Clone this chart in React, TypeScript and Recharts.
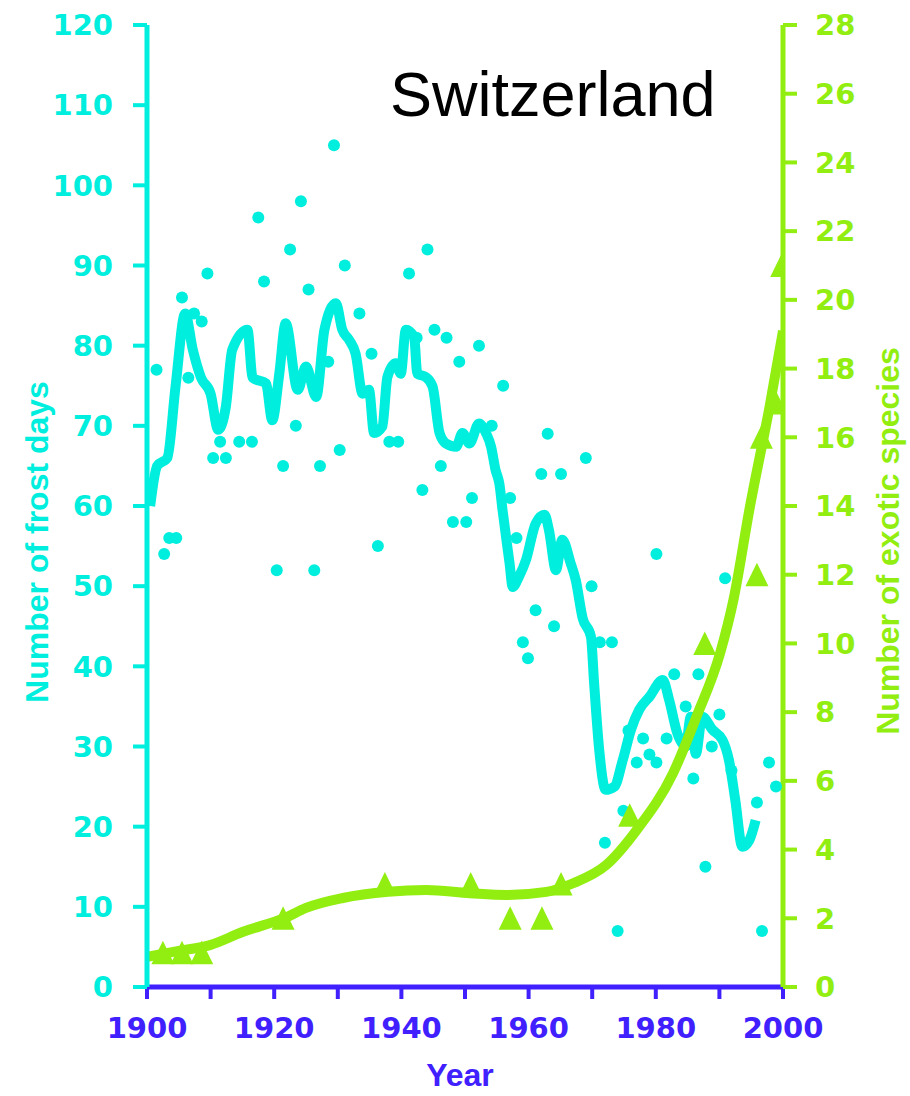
import {
	ComposedChart,
	Line,
	Scatter,
	XAxis,
	YAxis,
} from "recharts";

const CYAN = "#00eedd";
const GREEN = "#92ee10";
const BLUE = "#4020ff";

const xTicks = [1900, 1910, 1920, 1930, 1940, 1950, 1960, 1970, 1980, 1990, 2000];
const frostTicks = [0, 10, 20, 30, 40, 50, 60, 70, 80, 90, 100, 110, 120];
const speciesTicks = [0, 2, 4, 6, 8, 10, 12, 14, 16, 18, 20, 22, 24, 26, 28];

// yearly frost days (dots)
const frostYears = [
	1901.5, 1902.7, 1903.5, 1904.6, 1905.5, 1906.5, 1907.4, 1908.6, 1909.5, 1910.4,
	1911.5, 1912.4, 1914.5, 1916.5, 1917.5, 1918.4, 1920.4, 1921.4, 1922.5, 1923.4,
	1924.2, 1925.4, 1926.3, 1927.2, 1928.5, 1929.4, 1930.3, 1931.1, 1933.4, 1935.3,
	1936.3, 1938.1, 1939.5, 1941.2, 1942.4, 1943.3, 1944.1, 1945.2, 1946.2, 1947.1,
	1948.1, 1949.1, 1950.2, 1951.1, 1952.2, 1954.2, 1956.0, 1957.1, 1958.1, 1959.1,
	1959.9, 1961.1, 1962.0, 1963.0, 1964.0, 1965.1, 1969.0, 1969.9, 1971.2, 1972.0,
	1973.1, 1974.0, 1974.9, 1975.7, 1977.0, 1978.0, 1979.0, 1980.1, 1980.1, 1981.7,
	1982.9, 1984.7, 1985.9, 1986.7, 1987.8, 1988.8, 1990.0, 1990.9, 1991.9, 1995.9,
	1996.7, 1997.8, 1998.9,
];
const frostDays = [
	77, 54, 56, 56, 86, 76, 84, 83, 89, 66,
	68, 66, 68, 68, 96, 88, 52, 65, 92, 70,
	98, 87, 52, 65, 78, 105, 67, 90, 84, 79,
	55, 68, 68, 89, 81, 62, 92, 82, 65, 81,
	58, 78, 58, 61, 80, 70, 75, 61, 56, 43,
	41, 47, 64, 69, 45, 64, 66, 50, 43, 18,
	43, 7, 22, 32, 28, 31, 29, 28, 54, 31,
	39, 35, 26, 39, 15, 30, 34, 51, 27, 23,
	7, 28, 25,
];

// smoothed frost days
const smoothYears = [
	1900.5, 1901.6, 1903.2, 1904.5, 1906, 1907.2, 1908.5, 1910, 1911.2, 1912.4,
	1913.4, 1915.8, 1916.6, 1918.7, 1919.7, 1920.8, 1921.8, 1923.7, 1925, 1926.6,
	1927.9, 1929.7, 1930.7, 1931.8, 1932.8, 1933.9, 1934.9, 1935.7, 1937, 1937.8,
	1939.1, 1939.9, 1940.7, 1942, 1942.5, 1943.8, 1944.9, 1946, 1947, 1948.6,
	1949.6, 1950.7, 1952.2, 1953.3, 1954.1, 1954.8, 1955.4, 1955.9, 1957, 1957.5,
	1958.5, 1959.6, 1961.1, 1962.5, 1963.2, 1964.3, 1965.3, 1966.6, 1967.4, 1968.5,
	1969.8, 1970.3, 1971.1, 1972.1, 1973.5, 1974.8, 1976.1, 1977.4, 1979, 1981.1,
	1982.1, 1983.4, 1984.7, 1985.5, 1986.3, 1987.3, 1988.9, 1990.5, 1991.5, 1992.5,
	1993.6, 1994.7, 1995.7,
];
const smoothFrost = [
	60, 65, 66, 75, 84, 79.5, 76, 74, 69.5, 72.4,
	79.5, 82, 76, 75.3, 70.7, 76.5, 82.8, 74.5, 77.4, 73.6,
	82, 85.3, 82, 80.7, 79, 74, 74.5, 69.1, 69.9, 76.1,
	77.8, 76.5, 82, 81.1, 76.5, 76.1, 74.9, 69.1, 67.8, 67.4,
	69.1, 67.8, 70.3, 69.1, 67.4, 64.5, 62.8, 59.5, 52.9, 49.9,
	51.2, 53.3, 57.8, 58.9, 57, 52, 55.8, 52.9, 50.8, 46,
	43.7, 37.9, 29.6, 24.6, 25, 28.3, 32.1, 34.6, 36.2, 38.3,
	35.8, 31.6, 30, 33.7, 29.1, 33.7, 32.1, 30.8, 28.3, 23.3,
	17.5, 18.3, 20.8,
];

// exotic species records (triangles)
const speciesYears = [
	1902.5, 1905.5, 1908.6, 1921.4, 1937.4, 1950.9, 1957.1, 1962.1, 1965.1, 1975.9,
	1987.7, 1995.9, 1996.6, 1998.9, 1999.8,
];
const speciesCount = [1, 1, 1, 2, 3, 3, 2, 2, 3, 5, 10, 12, 16, 17, 21];

// fitted species curve
const fitYears = [
	1900, 1905, 1909.9, 1915, 1921.9, 1925, 1930.8, 1937.9, 1943.9, 1950.8,
	1956.5, 1962.8, 1967, 1972.2, 1977, 1982.7, 1986.4, 1990.1, 1992.2, 1994.8,
	1997.9, 2000,
];
const fitSpecies = [
	0.88, 1.05, 1.22, 1.6, 2.03, 2.3, 2.59, 2.77, 2.82, 2.73,
	2.68, 2.77, 3.02, 3.55, 4.57, 6.22, 7.87, 9.71, 11.26, 13.98,
	16.9, 19.1,
];

const frostPoints = frostYears.map((year, i) => ({ year, frost: frostDays[i] }));
const frostLine = smoothYears.map((year, i) => ({ year, frost: smoothFrost[i] }));
const speciesPoints = speciesYears.map((year, i) => ({ year, species: speciesCount[i] }));
const speciesLine = fitYears.map((year, i) => ({ year, species: fitSpecies[i] }));

const tickFont = { fontSize: 29, fontWeight: "bold", fontFamily: "DejaVu Sans" };
const titleFont = "Liberation Sans, Arial, sans-serif";

function Dot(props: any) {
	return <circle cx={props.cx} cy={props.cy} r={6} fill={CYAN} />;
}

function Triangle(props: any) {
	const { cx, cy } = props;
	return (
		<polygon
			points={`${cx},${cy - 12} ${cx + 11.5},${cy + 11.5} ${cx - 11.5},${cy + 11.5}`}
			fill={GREEN}
		/>
	);
}

export default function App() {
	return (
		<div style={{ position: "absolute", left: 0, top: 0, width: 910, height: 1096, background: "#fff" }}>
			<ComposedChart
				width={910}
				height={1096}
				margin={{ top: 25, right: 0, bottom: 0, left: 0 }}
			>
				<XAxis
					dataKey="year"
					type="number"
					domain={[1900, 2000]}
					ticks={xTicks}
					allowDataOverflow
					height={109}
					tickFormatter={(v) => (v % 20 === 0 ? String(v) : "")}
					tick={{ ...tickFont, fill: BLUE }}
					tickSize={12}
					tickMargin={18}
					tickLine={{ stroke: BLUE, strokeWidth: 4 }}
					axisLine={{ stroke: BLUE, strokeWidth: 5 }}
					label={{
						content: () => (
							<text
								x={460}
								y={1086}
								textAnchor="middle"
								fill={BLUE}
								fontSize={32}
								fontWeight="bold"
								fontFamily={titleFont}
							>
								Year
							</text>
						),
					}}
				/>
				<YAxis
					yAxisId="left"
					orientation="left"
					width={147}
					domain={[0, 120]}
					ticks={frostTicks}
					allowDataOverflow
					tick={{ ...tickFont, fill: CYAN }}
					tickSize={14}
					tickMargin={20}
					tickLine={{ stroke: CYAN, strokeWidth: 4 }}
					axisLine={{ stroke: CYAN, strokeWidth: 5 }}
					label={{
						content: () => (
							<text
								x={37}
								y={542}
								transform="rotate(-90, 37, 542)"
								textAnchor="middle"
								dominantBaseline="central"
								fill={CYAN}
								fontSize={32}
								fontWeight="bold"
								fontFamily={titleFont}
							>
								Number of frost days
							</text>
						),
					}}
				/>
				<YAxis
					yAxisId="right"
					orientation="right"
					width={127}
					domain={[0, 28]}
					ticks={speciesTicks}
					allowDataOverflow
					tick={{ ...tickFont, fill: GREEN }}
					tickSize={14}
					tickMargin={18}
					tickLine={{ stroke: GREEN, strokeWidth: 4 }}
					axisLine={{ stroke: GREEN, strokeWidth: 5 }}
					label={{
						content: () => (
							<text
								x={888}
								y={541}
								transform="rotate(-90, 888, 541)"
								textAnchor="middle"
								dominantBaseline="central"
								fill={GREEN}
								fontSize={32}
								fontWeight="bold"
								fontFamily={titleFont}
							>
								Number of exotic species
							</text>
						),
					}}
				/>
				<Scatter
					yAxisId="left"
					data={frostPoints}
					dataKey="frost"
					fill={CYAN}
					shape={Dot}
					isAnimationActive={false}
				/>
				<Line
					yAxisId="left"
					data={frostLine}
					dataKey="frost"
					type="monotone"
					stroke={CYAN}
					strokeWidth={10}
					strokeLinejoin="round"
					dot={false}
					activeDot={false}
					isAnimationActive={false}
				/>
				<Line
					yAxisId="right"
					data={speciesLine}
					dataKey="species"
					type="monotone"
					stroke={GREEN}
					strokeWidth={10}
					dot={false}
					activeDot={false}
					isAnimationActive={false}
				/>
				<Scatter
					yAxisId="right"
					data={speciesPoints}
					dataKey="species"
					fill={GREEN}
					shape={Triangle}
					isAnimationActive={false}
				/>
			</ComposedChart>
			<div
				style={{
					position: "absolute",
					left: 390,
					top: 63,
					fontFamily: titleFont,
					fontSize: 63,
					lineHeight: "63px",
					color: "#000",
					whiteSpace: "nowrap",
				}}
			>
				Switzerland
			</div>
		</div>
	);
}
